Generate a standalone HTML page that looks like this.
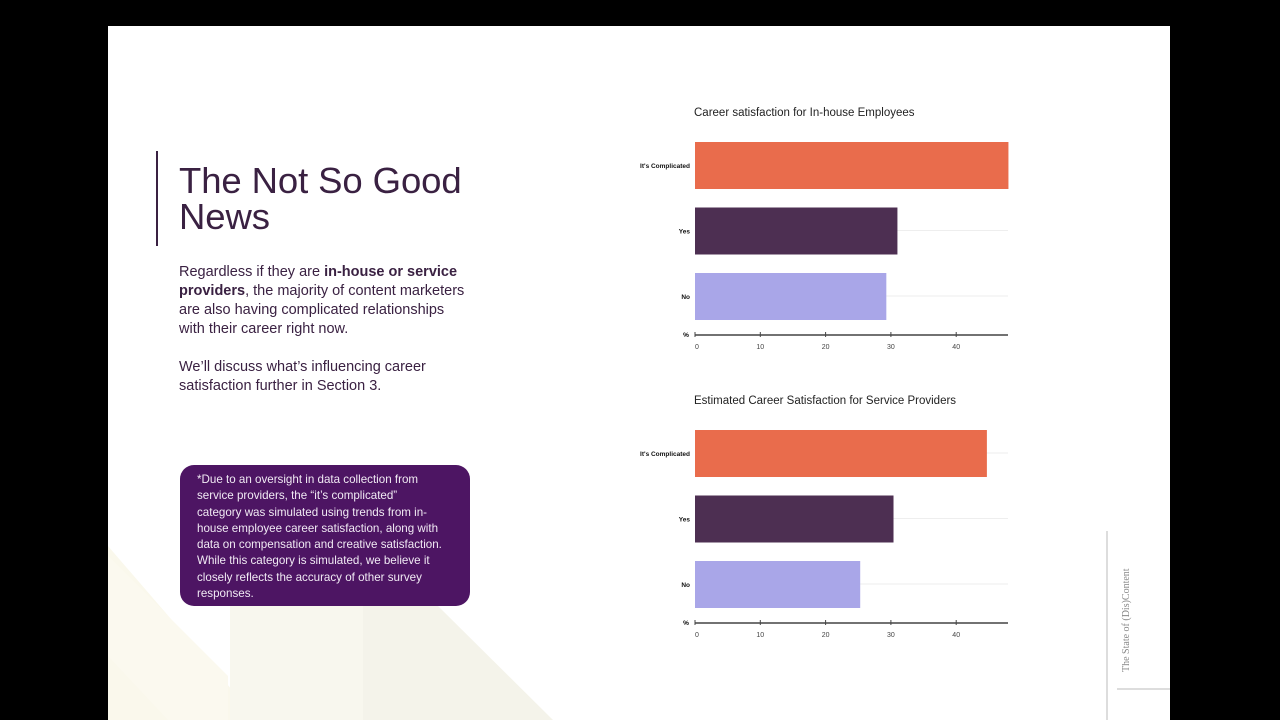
<!DOCTYPE html>
<html><head><meta charset="utf-8"><style>
body{margin:0;width:1280px;height:720px;background:#000;overflow:hidden;font-family:"Liberation Sans",sans-serif;position:relative}
.slide{position:absolute;left:108px;top:26px;width:1062px;height:694px;background:#fff;overflow:hidden}
h1{position:absolute;left:71px;top:137px;margin:0;font-weight:normal;font-size:36.5px;line-height:36px;color:#3a2142;letter-spacing:-0.1px}
.bar-l{position:absolute;left:48px;top:125px;width:2px;height:95px;background:#3a2142}
.p{position:absolute;left:71px;font-size:14.5px;line-height:19px;color:#3a2142;width:290px}
.note{position:absolute;left:72px;top:439px;width:290px;height:141px;background:#4d1563;border-radius:14px;color:#f1eaf4;font-size:11.6px;line-height:16.3px;padding:7px 26px 0 17px;box-sizing:border-box}
svg{position:absolute;left:0;top:0}
</style></head><body>
<div class="slide">
<svg width="1062" height="694">
<polygon points="0,520 0,694 150,694" fill="#faf8ec"/>
<polygon points="0,530 120,650 120,694 60,694 0,630" fill="#fbf9ef"/>
<polygon points="122,580 255,580 255,694 122,694" fill="#f8f7ee"/>
<polygon points="255,580 330,580 445,694 255,694" fill="#f4f3ea"/>
<line x1="999" y1="505" x2="999" y2="694" stroke="#bbb" stroke-width="1"/>
<line x1="1009" y1="663" x2="1062" y2="663" stroke="#bbb" stroke-width="1"/>
<text transform="translate(1021,646) rotate(-90)" font-family="Liberation Serif,serif" font-size="10" fill="#888">The State of (Dis)Content</text>
</svg>
<div class="bar-l"></div>
<h1>The Not So Good<br>News</h1>
<div class="p" style="top:237px">Regardless if they are <b>in-house or service providers</b>, the majority of content marketers are also having complicated relationships with their career right now.</div>
<div class="p" style="top:332px">We’ll discuss what’s influencing career satisfaction further in Section 3.</div>
<div class="note">*Due to an oversight in data collection from service providers, the “it’s complicated” category was simulated using trends from in-house employee career satisfaction, along with data on compensation and creative satisfaction. While this category is simulated, we believe it closely reflects the accuracy of other survey responses.</div>
</div>
<svg id="charts" width="1280" height="720"></svg>
<script>
const categories=["It's Complicated","Yes","No"];
const inhouseValues=[48,31,29.3];
const providerValues=[44.7,30.4,25.3];
const tickValues=[0,10,20,30,40];
const titles=["Career satisfaction for In-house Employees","Estimated Career Satisfaction for Service Providers"];
const colors=["#e96c4c","#4d2f52","#a9a6e8"];
const NS="http://www.w3.org/2000/svg";
const svg=document.getElementById('charts');
function mk(t,a){const e=document.createElementNS(NS,t);for(const k in a)e.setAttribute(k,a[k]);return e;}
function draw(top,values,title){
  const x0=695,scale=6.53,xEnd=1008;
  const x=v=>x0+v*scale;
  const g=mk('g',{});
  
  
  const tt=mk('text',{x:694,y:top+4,'font-size':11.5,fill:'#222','font-weight':'500'});tt.textContent=title;
  
  
  g.appendChild(tt);
  values.forEach((v,i)=>{
    const y=top+30+i*65.5;
    g.appendChild(mk('line',{x1:x0,x2:xEnd,y1:y+23,y2:y+23,stroke:'#eee'}));
    const r=mk('rect',{x:x0,y:y,width:x(v)-x0,height:47,fill:colors[i]});
    
    
    g.appendChild(r);
    const l=mk('text',{x:690,y:y+26,'font-size':6.5,'font-weight':'bold','text-anchor':'end',fill:'#111'});
    l.textContent=categories[i];
    
    
    g.appendChild(l);
  });
  const ay=top+223;
  g.appendChild(mk('line',{x1:x0,x2:xEnd,y1:ay,y2:ay,stroke:'#444','stroke-width':1.5}));
  const pc=mk('text',{x:686,y:ay+2,'font-size':6.5,'font-weight':'bold','text-anchor':'middle'});pc.textContent='%';
  
  
  g.appendChild(pc);
  tickValues.forEach(t=>{
    g.appendChild(mk('line',{x1:x(t),x2:x(t),y1:ay-3,y2:ay+2,stroke:'#444'}));
    const tl=mk('text',{x:x(t)+(t==0?2:0),y:ay+14,'font-size':7,'text-anchor':'middle',fill:'#444'});tl.textContent=t;
    
    
    g.appendChild(tl);
  });
  svg.appendChild(g);
}
draw(112,inhouseValues,titles[0]);
draw(400,providerValues,titles[1]);
</script>
</body></html>
